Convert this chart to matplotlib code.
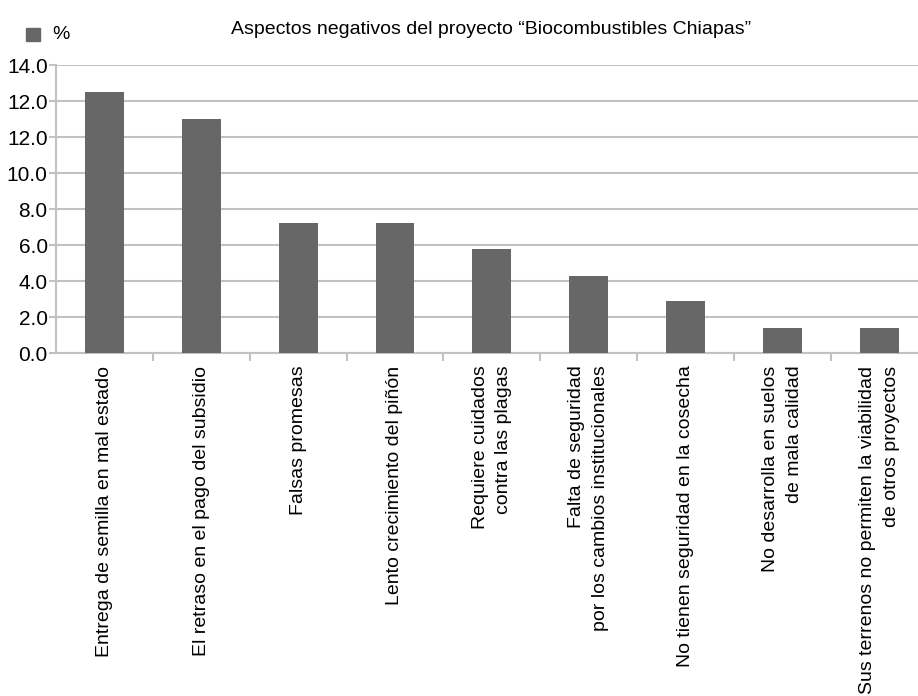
import numpy as np
import matplotlib
matplotlib.use("Agg")
import matplotlib.pyplot as plt

plt.rcParams['font.family'] = ['Liberation Sans', 'DejaVu Sans']

categories = [
    "Entrega de semilla en mal estado",
    "El retraso en el pago del subsidio",
    "Falsas promesas",
    "Lento crecimiento del piñón",
    "Requiere cuidados\ncontra las plagas",
    "Falta de seguridad\npor los cambios institucionales",
    "No tienen seguridad en la cosecha",
    "No desarrolla en suelos\nde mala calidad",
    "Sus terrenos no permiten la viabilidad\nde otros proyectos",
]
values = [14.5, 13.0, 7.2, 7.2, 5.8, 4.3, 2.9, 1.4, 1.4]
ytick_values = [0, 2, 4, 6, 8, 10, 12, 14, 16]
ytick_labels = ["0.0", "2.0", "4.0", "6.0", "8.0", "10.0", "12.0", "12.0", "14.0"]

bar_color = "#676767"
grid_color = "#c2c2c2"

fig = plt.figure(figsize=(9.18, 6.96), dpi=100)
ax = fig.add_axes([0.061, 0.4928, 0.939, 0.4138])

x = np.arange(len(categories))
ax.bar(x, values, width=0.4, color=bar_color, zorder=3)

ax.set_ylim(0, 16)
ax.set_xlim(-0.5, 8.4)
ax.set_yticks(ytick_values)
ax.set_yticklabels(ytick_labels, fontsize=15)
ax.yaxis.grid(True, color=grid_color, linewidth=1.5, zorder=0)

ax.set_xticks(x)
ax.set_xticklabels(categories, rotation=90, fontsize=14, va="top", ha="center",
                   linespacing=1.5)
for lbl in ax.get_xticklabels():
    lbl.set_multialignment("right")
ax.tick_params(axis="x", length=0, pad=9)
ax.set_xticks(x[:-1] + 0.5, minor=True)
ax.tick_params(axis="x", which="minor", length=6, color=grid_color, width=1.5)
ax.tick_params(axis="y", length=5, color=grid_color, width=1.5, pad=1)

for side in ["top", "right"]:
    ax.spines[side].set_visible(False)
for side in ["left", "bottom"]:
    ax.spines[side].set_color(grid_color)
    ax.spines[side].set_linewidth(1.5)

fig.text(0.535, 0.958, "Aspectos negativos del proyecto \u201cBiocombustibles Chiapas\u201d",
         ha="center", va="center", fontsize=14)
fig.patches.append(plt.Rectangle((0.028, 0.941), 0.016, 0.019, transform=fig.transFigure,
                                 color=bar_color, figure=fig))
fig.text(0.057, 0.951, "%", ha="left", va="center", fontsize=14)

fig.savefig("out.png", dpi=100)
